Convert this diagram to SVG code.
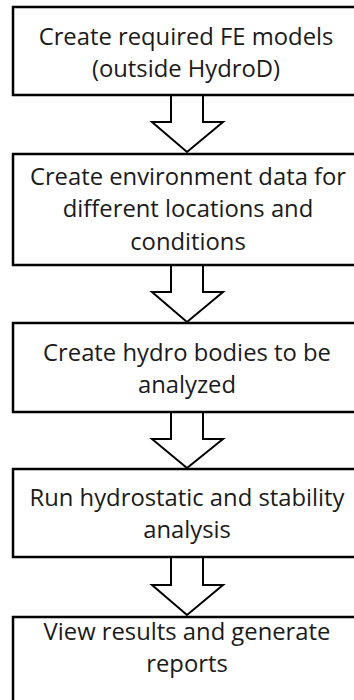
<svg xmlns="http://www.w3.org/2000/svg" width="354" height="700" viewBox="0 0 354 700">
<style>
.box{fill:#fff;stroke:#000;stroke-width:2.5}
.arr{fill:#fff;stroke:#000;stroke-width:2;stroke-linejoin:miter}
text{font-family:"Open Sans",Lato,sans-serif;font-size:23.8px;fill:#1a1a1a;text-anchor:middle}
</style>
<rect width="354" height="700" fill="#fff"/>
<g id="connectors">
<path class="arr" d="M171,96 V122 H152 L187,152 L223,122 H203 V96"/>
<path class="arr" d="M171,266 V292 H152 L187,322 L223,292 H203 V266"/>
<path class="arr" d="M171,413 V439 H152 L187,468 L223,439 H203 V413"/>
<path class="arr" d="M171,558 V585 H152 L187,615 L223,585 H203 V558"/>
</g>
<g id="n1">
<rect class="box" x="13" y="7" width="345" height="88"/>
<text x="186" y="45">Create required FE models</text>
<text x="186" y="77">(outside HydroD)</text>
</g>
<g id="n2">
<rect class="box" x="13" y="154" width="345" height="111"/>
<text x="188" y="185">Create environment data for</text>
<text x="188" y="217">different locations and</text>
<text x="188" y="250">conditions</text>
</g>
<g id="n3">
<rect class="box" x="13" y="323" width="345" height="89"/>
<text x="187" y="361">Create hydro bodies to be</text>
<text x="187" y="393">analyzed</text>
</g>
<g id="n4">
<rect class="box" x="13" y="469" width="345" height="88"/>
<text x="187" y="506">Run hydrostatic and stability</text>
<text x="187" y="538">analysis</text>
</g>
<g id="n5">
<rect class="box" x="13" y="617" width="345" height="90"/>
<text x="187" y="640">View results and generate</text>
<text x="187" y="672">reports</text>
</g>
</svg>
